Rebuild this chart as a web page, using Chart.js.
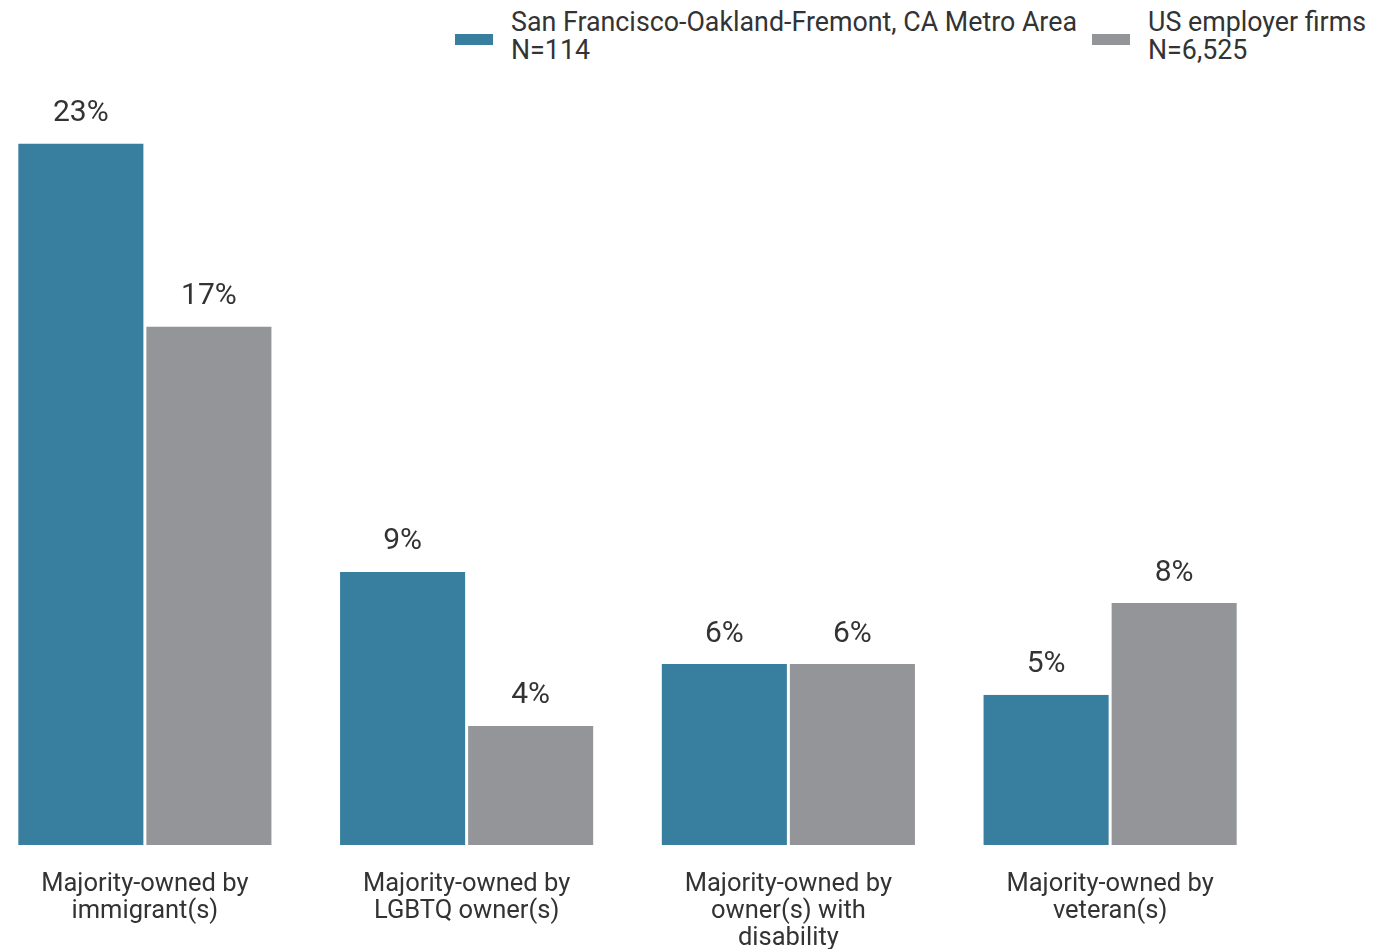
<!DOCTYPE html>
<html>
<head>
<meta charset="utf-8">
<script src="https://cdn.jsdelivr.net/npm/chart.js@4/dist/chart.umd.min.js"></script>
<style>
  html, body { margin:0; padding:0; background:#fff; overflow:hidden; }
  body { width:1373px; height:949px; position:relative; font-family:Roboto, sans-serif; color:#333; }
  .chart-wrap { position:absolute; left:-16px; top:0; width:1287px; height:949px; }
  .lg-box { position:absolute; width:38px; height:11px; }
  .lg-text { position:absolute; font-size:26.8px; line-height:28px; color:#333; white-space:nowrap; }
</style>
</head>
<body>
<div class="lg-box" style="left:455px;top:34px;background:#377e9f"></div>
<div class="lg-text" id="lg0" style="left:511px;top:8px"></div>
<div class="lg-box" style="left:1092px;top:34px;background:#939598"></div>
<div class="lg-text" id="lg1" style="left:1148px;top:8px"></div>
<div class="chart-wrap"><canvas id="chart"></canvas></div>
<script>
  // categories (multi-line labels)
  const CATEGORIES = [
    ['Majority-owned by', 'immigrant(s)'],
    ['Majority-owned by', 'LGBTQ owner(s)'],
    ['Majority-owned by', 'owner(s) with', 'disability'],
    ['Majority-owned by', 'veteran(s)'],
  ];
  const SERIES_NAMES = [
    ['San Francisco-Oakland-Fremont, CA Metro Area', 'N=114'],
    ['US employer firms', 'N=6,525'],
  ];
  const SF_VALUES = [23.0, 8.95, 5.93, 4.92];
  const US_VALUES = [17.0, 3.9, 5.93, 7.93];
  const COLORS = ['#377e9f', '#939598'];

  document.getElementById('lg0').innerHTML = SERIES_NAMES[0].join('<br>');
  document.getElementById('lg1').innerHTML = SERIES_NAMES[1].join('<br>');

  const valueLabels = {
    id: 'valueLabels',
    afterDatasetsDraw(chart) {
      const ctx = chart.ctx;
      ctx.save();
      ctx.font = '30px Roboto';
      ctx.fillStyle = '#333';
      ctx.textAlign = 'center';
      ctx.textBaseline = 'middle';
      chart.data.datasets.forEach((ds, i) => {
        chart.getDatasetMeta(i).data.forEach((bar, j) => {
          ctx.fillText(Math.round(ds.data[j]) + '%', bar.x, bar.y - 30);
        });
      });
      ctx.restore();
    }
  };

  const barStyle = {
    borderColor: '#fff',
    borderWidth: { left:1.5, right:1.5, top:0, bottom:0 },
    borderSkipped: false,
    categoryPercentage: 0.796,
    barPercentage: 1.0,
  };

  new Chart(document.getElementById('chart').getContext('2d'), {
    type: 'bar',
    data: {
      labels: CATEGORIES,
      datasets: [
        { label: SERIES_NAMES[0].join(' '), data: SF_VALUES, backgroundColor: COLORS[0], ...barStyle },
        { label: SERIES_NAMES[1].join(' '), data: US_VALUES, backgroundColor: COLORS[1], ...barStyle },
      ]
    },
    options: {
      responsive: true, maintainAspectRatio: false,
      animation: false,
      layout: { padding: { top: 82.5, left: 0, right: 0, bottom: -29 } },
      plugins: { legend: { display:false }, tooltip: { enabled:false } },
      scales: {
        x: {
          grid: { display:false, drawTicks:false },
          border: { display:false },
          ticks: { color:'#333', font:{ family:'Roboto', size:25.5, lineHeight:1.06 }, padding:26, maxRotation:0, autoSkip:false }
        },
        y: { display:false, min:0, max:25 }
      }
    },
    plugins: [valueLabels]
  });
</script>
</body>
</html>
